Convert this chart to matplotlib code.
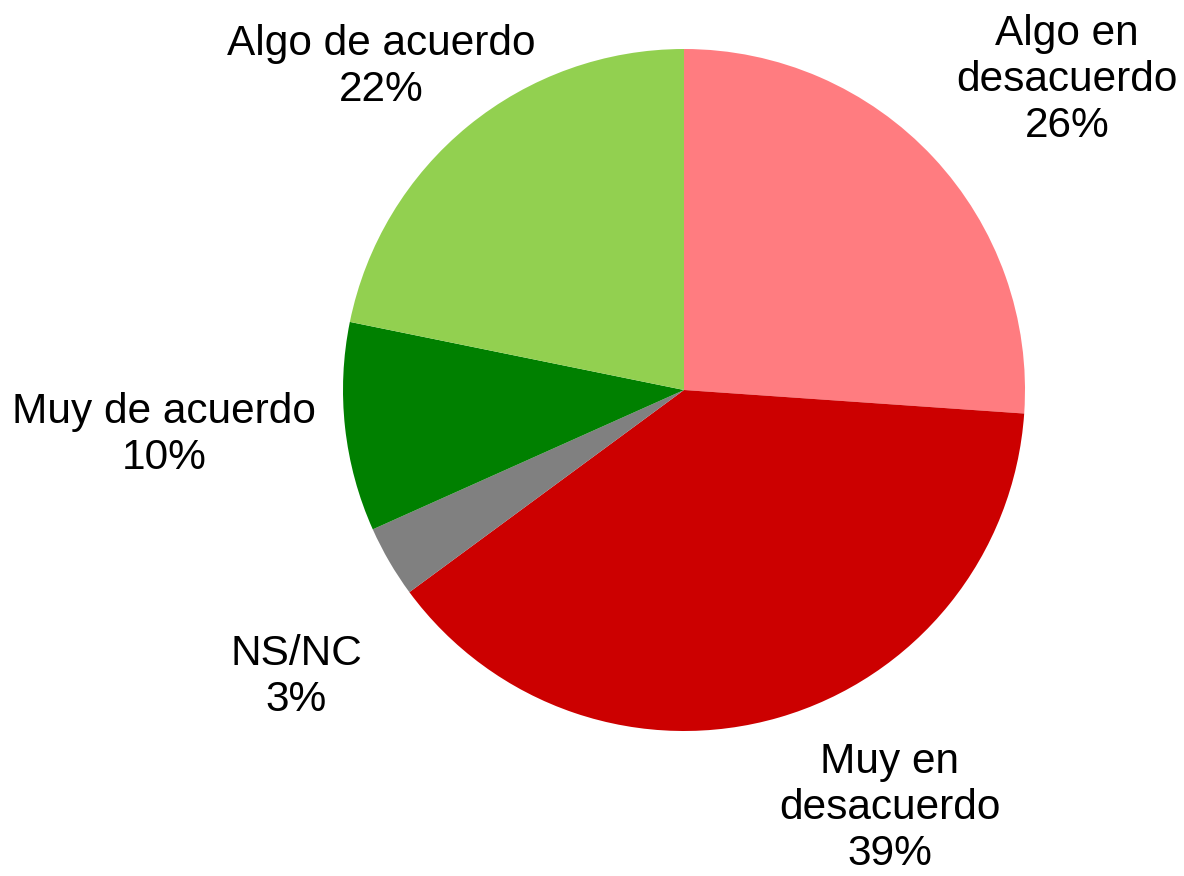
import matplotlib
matplotlib.use("Agg")
from matplotlib import pyplot as plt

# data, clockwise from the top (shares)
categories = ["Algo en\ndesacuerdo", "Muy en\ndesacuerdo", "NS/NC",
              "Muy de acuerdo", "Algo de acuerdo"]
values = [26.1, 38.8, 3.4, 9.9, 21.8]
colors = ["#FF7C80", "#CC0000", "#808080", "#008000", "#92D050"]

# label centres in pixels (x, y from top) of the 1184x876 picture
label_px = [(1067, 80), (890, 808), (296, 677), (164, 435), (381, 67)]

W, H = 1184, 876
plt.rcParams['font.family'] = ['Liberation Sans', 'DejaVu Sans']
fig = plt.figure(figsize=(W / 100, H / 100), dpi=100)

# pie centre (684, 390), radius 341 px
cx, cy, r = 684, 390, 341
ax = fig.add_axes([(cx - r) / W, (H - cy - r) / H, 2 * r / W, 2 * r / H])
ax.pie(values, colors=colors, startangle=90, counterclock=False,
       radius=1, wedgeprops=dict(linewidth=0))
ax.set_xlim(-1, 1)
ax.set_ylim(-1, 1)
ax.set_aspect('equal')
ax.axis('off')

for cat, val, (px, py) in zip(categories, values, label_px):
   fig.text(px / W, 1 - py / H, f"{cat}\n{val:.0f}%", ha='center', va='center',
            multialignment='center', fontsize=30.5, linespacing=1.2)

fig.savefig("out.png", dpi=100)
